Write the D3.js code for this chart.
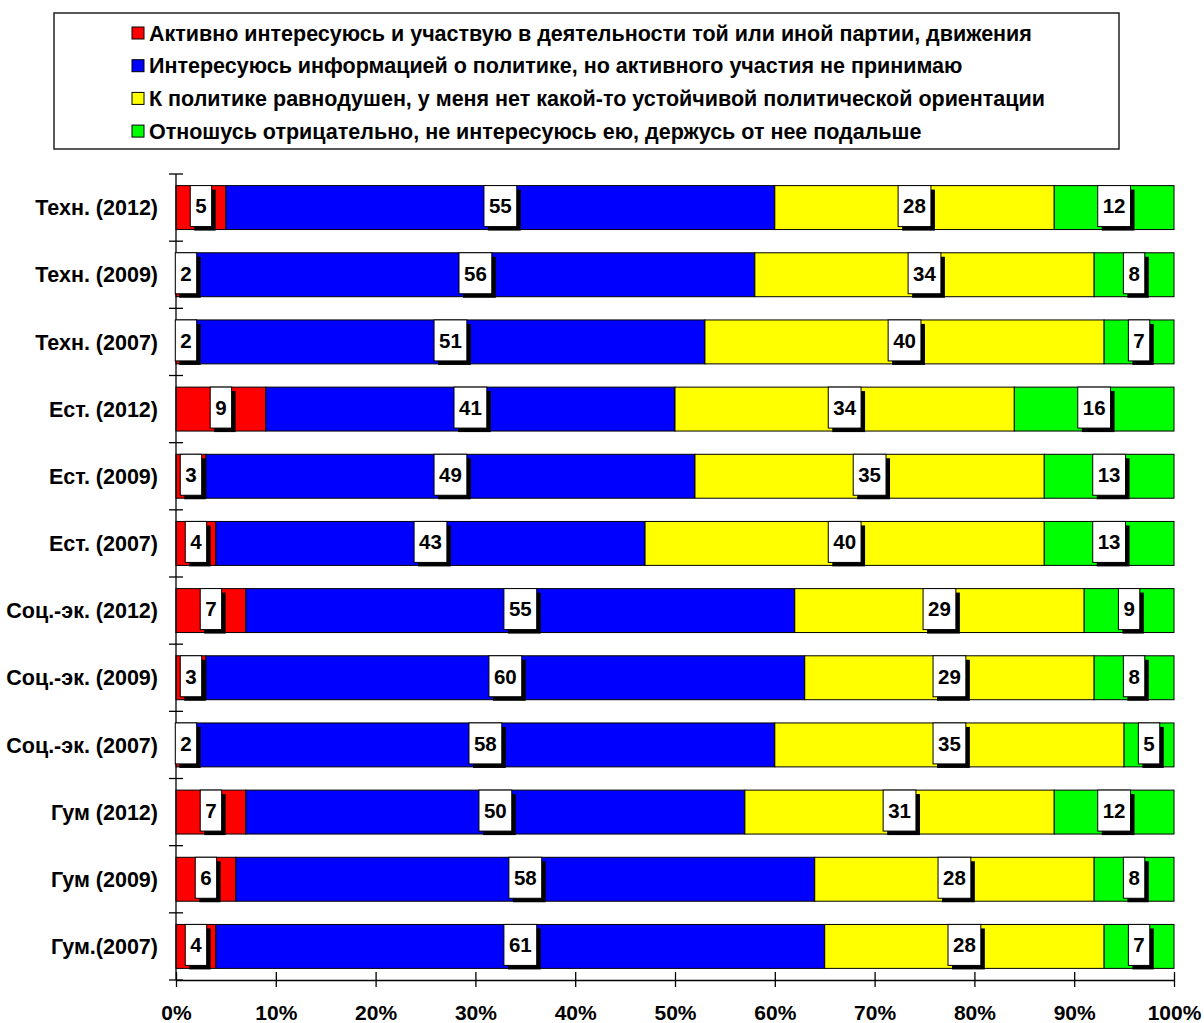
<!DOCTYPE html>
<html><head><meta charset="utf-8">
<script src="https://cdn.jsdelivr.net/npm/d3@7"></script>
<style>
html,body{margin:0;padding:0;background:#fff;}
svg{display:block;}
text{font-family:"Liberation Sans",Arial,sans-serif;font-weight:bold;fill:#000;}
</style></head>
<body><svg id="c" width="1204" height="1023"></svg>
<script>
const categories = ["Техн. (2012)","Техн. (2009)","Техн. (2007)","Ест. (2012)","Ест. (2009)","Ест. (2007)","Соц.-эк. (2012)","Соц.-эк. (2009)","Соц.-эк. (2007)","Гум (2012)","Гум (2009)","Гум.(2007)"];
const seriesNames = [
  "Активно интересуюсь и участвую в деятельности той или иной партии, движения",
  "Интересуюсь информацией о политике, но активного участия не принимаю",
  "К политике равнодушен, у меня нет какой-то устойчивой политической ориентации",
  "Отношусь отрицательно, не интересуюсь ею, держусь от нее подальше"
];
const active      = [5, 2, 2, 9, 3, 4, 7, 3, 2, 7, 6, 4];
const interested  = [55,56,51,41,49,43,55,60,58,50,58,61];
const indifferent = [28,34,40,34,35,40,29,29,35,31,28,28];
const negative    = [12, 8, 7,16,13,13, 9, 8, 5,12, 8, 7];
const xTickValues = [0,0.1,0.2,0.3,0.4,0.5,0.6,0.7,0.8,0.9,1];
const colors = ["#FF0000","#0000FF","#FFFF00","#00FF00"];

const keys = ["s0","s1","s2","s3"];
const seriesArrays = [active, interested, indifferent, negative];
const rows = categories.map((c,i)=>{const r={cat:c}; keys.forEach((k,j)=>r[k]=seriesArrays[j][i]); return r;});
const stacked = d3.stack().keys(keys).offset(d3.stackOffsetExpand)(rows);

const svg = d3.select("#c");
const x = d3.scaleLinear().domain([0,1]).range([176,1174]);
const y = d3.scaleBand().domain(categories).range([174,980]).paddingInner(0.346).paddingOuter(0.173);

// bars
stacked.forEach((s,si)=>{
  svg.append("g").selectAll("rect").data(s).join("rect")
    .attr("x", d=>x(d[0])).attr("width", d=>x(d[1])-x(d[0]))
    .attr("y", d=>y(d.data.cat)).attr("height", y.bandwidth())
    .attr("fill", colors[si]).attr("stroke","#000").attr("stroke-width",1);
});

// axes
const ax = svg.append("g").attr("transform","translate(0,980)");
ax.call(d3.axisBottom(x).tickValues(xTickValues).tickFormat(d3.format(".0%")).tickSize(7).tickSizeOuter(0));
ax.attr("font-size",null).attr("font-family",null);
ax.select(".domain").attr("stroke","#000").attr("stroke-width",1.3);
ax.selectAll(".tick line").attr("y1",-8).attr("y2",7).attr("stroke","#000").attr("stroke-width",1.3);
ax.selectAll(".tick text").attr("y",32).attr("dy","0.36em").style("font-size","21px");

const step = y.step();
const y0 = y.range()[0];
const yb = d3.range(categories.length+1).map(i=>y0+i*step);
svg.append("line").attr("x1",x(0)).attr("x2",x(0)).attr("y1",yb[0]).attr("y2",yb[yb.length-1]).attr("stroke","#000").attr("stroke-width",1.3);
svg.append("g").selectAll("line").data(yb).join("line")
  .attr("x1",x(0)-7).attr("x2",x(0)+7).attr("y1",d=>d).attr("y2",d=>d).attr("stroke","#000").attr("stroke-width",1.3);
svg.append("g").selectAll("text").data(categories).join("text")
  .attr("x",158).attr("y",d=>y(d)+y.bandwidth()/2).attr("dy","0.36em")
  .attr("text-anchor","end").style("font-size","21.5px").text(d=>d);

// data labels
const lg = svg.append("g");
stacked.forEach((s,si)=>{
  s.forEach((d,i)=>{
    const cx = (x(d[0])+x(d[1]))/2;
    const cy = y(d.data.cat)+y.bandwidth()/2 - 1.5;
    const g = lg.append("g");
    const sh = g.append("rect");
    const bx = g.append("rect");
    const t = g.append("text").attr("x",cx).attr("y",cy).attr("dy","0.36em").attr("text-anchor","middle")
      .style("font-size","20.5px").text(seriesArrays[si][i]);
    const w = t.node().getComputedTextLength()+10, h = 41;
    sh.attr("x",cx-w/2+4).attr("y",cy-h/2+4).attr("width",w).attr("height",h).attr("fill","#000");
    bx.attr("x",cx-w/2).attr("y",cy-h/2).attr("width",w).attr("height",h).attr("fill","#fff").attr("stroke","#000").attr("stroke-width",1);
  });
});

// legend
const leg = svg.append("g");
leg.append("rect").attr("x",54).attr("y",13).attr("width",1065).attr("height",136).attr("fill","#fff").attr("stroke","#222").attr("stroke-width",1.5);
seriesNames.forEach((n,i)=>{
  const ly = 33 + i*32.7;
  leg.append("rect").attr("x",132).attr("y",ly-6).attr("width",12).attr("height",12).attr("fill",colors[i]).attr("stroke","#000").attr("stroke-width",1);
  leg.append("text").attr("x",149).attr("y",ly).attr("dy","0.36em").style("font-size","21.5px").text(n);
});
</script></body></html>
